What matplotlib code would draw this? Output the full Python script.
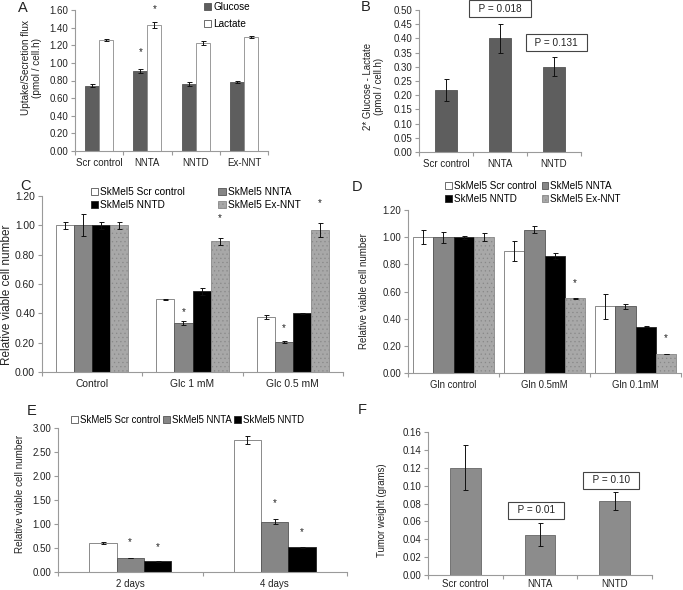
import matplotlib
matplotlib.use("Agg")
import matplotlib.pyplot as plt
import numpy as np
from matplotlib.patches import Patch

plt.rcParams['font.family'] = ['Liberation Sans', 'DejaVu Sans']
plt.rcParams['hatch.linewidth'] = 0.4

# ---------------- data ----------------
a_cats = ["Scr control", "NNTA", "NNTD", "Ex-NNT"]
a_glucose = [0.74, 0.91, 0.765, 0.785]
a_glucose_err = [0.015, 0.022, 0.022, 0.012]
a_lactate = [1.26, 1.43, 1.225, 1.295]
a_lactate_err = [0.010, 0.032, 0.022, 0.010]

b_cats = ["Scr control", "NNTA", "NNTD"]
b_vals = [0.218, 0.40, 0.30]
b_err = [0.038, 0.05, 0.033]
b_pvals = ["P = 0.018", "P = 0.131"]

c_cats = ["Control", "Glc 1 mM", "Glc 0.5 mM"]
c_scr = [1.00, 0.495, 0.375]
c_scr_err = [0.022, 0.005, 0.016]
c_nnta = [1.00, 0.335, 0.205]
c_nnta_err = [0.075, 0.013, 0.007]
c_nntd = [1.00, 0.55, 0.40]
c_nntd_err = [0.025, 0.022, 0.005]
c_exnnt = [1.00, 0.89, 0.97]
c_exnnt_err = [0.025, 0.022, 0.048]

d_cats = ["Gln control", "Gln 0.5mM", "Gln 0.1mM"]
d_scr = [1.00, 0.90, 0.49]
d_scr_err = [0.05, 0.075, 0.09]
d_nnta = [1.00, 1.055, 0.49]
d_nnta_err = [0.04, 0.025, 0.02]
d_nntd = [1.00, 0.86, 0.34]
d_nntd_err = [0.01, 0.02, 0.003]
d_exnnt = [1.00, 0.55, 0.14]
d_exnnt_err = [0.03, 0.003, 0.003]

e_cats = ["2 days", "4 days"]
e_scr = [0.60, 2.75]
e_scr_err = [0.015, 0.08]
e_nnta = [0.29, 1.05]
e_nnta_err = [0.005, 0.06]
e_nntd = [0.22, 0.52]
e_nntd_err = [0.005, 0.01]

f_cats = ["Scr control", "NNTA", "NNTD"]
f_vals = [0.12, 0.045, 0.083]
f_err = [0.025, 0.013, 0.01]
f_pvals = ["P = 0.01", "P = 0.10"]

series_labels = ["SkMel5 Scr control", "SkMel5 NNTA", "SkMel5 NNTD", "SkMel5 Ex-NNT"]

# ---------------- styling ----------------
W, H = 683, 590
fig = plt.figure(figsize=(W / 100, H / 100), dpi=100)
FS = 7.0
SPINE = "#9a9a9a"
TXT = "#222222"
DARK = "#5e5e5e"
MID = "#868686"
LIGHT = "#a8a8a8"
EDGE = "#555555"


def add_ax(l, r, t, b):
    return fig.add_axes([l / W, 1 - b / H, (r - l) / W, (b - t) / H])


def style(ax, cats, ymax, step, xpad=5, fs=FS, fmt="{:.2f}"):
    n = len(cats)
    ax.set_xlim(0, n)
    ax.set_ylim(0, ymax)
    ticks = np.arange(0, ymax + step / 2, step)
    ax.set_yticks(ticks)
    ax.set_yticklabels([fmt.format(v) for v in ticks], fontsize=fs, color=TXT)
    ax.set_xticks(np.arange(0, n + 1))
    ax.set_xticklabels([])
    ax.set_xticks(np.arange(n) + 0.5, minor=True)
    ax.set_xticklabels(cats, minor=True, fontsize=fs, color=TXT)
    ax.tick_params(axis='x', which='major', direction='out', length=3, color=SPINE, width=0.8)
    ax.tick_params(axis='x', which='minor', length=0, pad=xpad)
    ax.tick_params(axis='y', direction='out', length=3, color=SPINE, width=0.8, pad=2)
    for s in ("top", "right"):
        ax.spines[s].set_visible(False)
    for s in ("left", "bottom"):
        ax.spines[s].set_color(SPINE)
        ax.spines[s].set_linewidth(0.8)
    ax.patch.set_alpha(0)


def ylab(ax, s, fs, x, y):
    ax.set_ylabel(s, fontsize=fs, color=TXT, linespacing=1.1)
    ax.yaxis.set_label_coords(x, y)


EK = dict(ecolor="#111111", elinewidth=0.7, capsize=1.8, capthick=0.7)


def bars(ax, x, vals, errs, width, fc, ec=EDGE, hatch=None):
    ax.bar(x, vals, width, yerr=errs, color=fc, edgecolor=ec, linewidth=0.6,
           hatch=hatch, error_kw=EK, zorder=2)


def star(ax, x, y):
    ax.text(x, y, "*", ha="center", va="center", fontsize=7, color=TXT)


def pbox(ax, x, y, s):
    ax.text(x, y, "  " + s + "  ", ha="center", va="center", fontsize=7.2, color=TXT,
            bbox=dict(boxstyle="square,pad=0.35", fc="white", ec="#444444", lw=0.8),
            clip_on=False, zorder=5)


def panel_letter(x, y, s):
    fig.text(x / W, 1 - y / H, s, fontsize=10.5, ha="left", va="center", color=TXT)


def legend(handles, x, y, ncol=1, fs=7.2, **kw):
    fig.legend(handles=handles, ncol=ncol, loc="upper left",
               bbox_to_anchor=(x / W, 1 - y / H), frameon=False, fontsize=fs,
               handlelength=0.7, handleheight=0.7, handletextpad=0.2,
               borderpad=0, borderaxespad=0, **kw)


# ---------------- Panel A ----------------
axA = add_ax(75, 268, 10, 151)
style(axA, a_cats, 1.6, 0.2)
xa = np.arange(len(a_cats)) + 0.5
bw = 0.29
bars(axA, xa - bw / 2, a_glucose, a_glucose_err, bw, DARK)
bars(axA, xa + bw / 2, a_lactate, a_lactate_err, bw, "white", ec="#8a8a8a")
star(axA, xa[1] - bw / 2, a_glucose[1] + 0.21)
star(axA, xa[1] + bw / 2, a_lactate[1] + 0.18)
ylab(axA, "Uptake/Secretion flux\n(pmol / cell.h)", 7.2, -0.171, 0.59)
legend([Patch(fc=DARK, ec=EDGE, lw=0.6, label="Glucose"),
        Patch(fc="white", ec="#555555", lw=0.6, label="Lactate")],
       204, 1.5, labelspacing=0.75)
panel_letter(18, 8, "A")

# ---------------- Panel B ----------------
axB = add_ax(419, 581, 10, 152)
style(axB, b_cats, 0.5, 0.05)
xb = np.arange(len(b_cats)) + 0.5
bars(axB, xb, b_vals, b_err, 0.39, DARK)
ylab(axB, "2* Glucose - Lactate\n(pmol / cell.h)", 6.9, -0.216, 0.46)
pbox(axB, xb[1], 0.505, b_pvals[0])
pbox(axB, xb[2] + 0.04, 0.384, b_pvals[1])
panel_letter(361, 7, "B")

# ---------------- Panel C ----------------
axC = add_ax(42, 343, 196, 372)
style(axC, c_cats, 1.2, 0.2, fs=7.4)
xc = np.arange(len(c_cats)) + 0.5
w4 = 0.18
offs = np.array([-1.5, -0.5, 0.5, 1.5]) * w4
bars(axC, xc + offs[0], c_scr, c_scr_err, w4, "white", ec="#777777")
bars(axC, xc + offs[1], c_nnta, c_nnta_err, w4, MID)
bars(axC, xc + offs[2], c_nntd, c_nntd_err, w4, "black", ec="#222222")
bars(axC, xc + offs[3], c_exnnt, c_exnnt_err, w4, LIGHT, ec="#888888", hatch="....")
star(axC, xc[1] + offs[1], 0.41)
star(axC, xc[1] + offs[3], 1.05)
star(axC, xc[2] + offs[1], 0.30)
star(axC, xc[2] + offs[3], 1.155)
ylab(axC, "Relative viable cell number", 8.5, -0.098, 0.44)
hC = [Patch(fc="white", ec="#555555", lw=0.6, label=series_labels[0]),
      Patch(fc="black", ec="#222222", lw=0.6, label=series_labels[2]),
      Patch(fc=MID, ec=EDGE, lw=0.6, label=series_labels[1]),
      Patch(fc=LIGHT, ec="#888888", lw=0.6, hatch="....", label=series_labels[3])]
legend(hC, 91, 187, ncol=2, fs=7.3, labelspacing=0.3, columnspacing=3.3)
panel_letter(20, 186, "C")

# ---------------- Panel D ----------------
axD = add_ax(408, 681, 210, 373)
style(axD, d_cats, 1.2, 0.2, fs=6.9)
xd = np.arange(len(d_cats)) + 0.5
w4d = 0.22
offsd = np.array([-1.5, -0.5, 0.5, 1.5]) * w4d
bars(axD, xd + offsd[0], d_scr, d_scr_err, w4d, "white", ec="#777777")
bars(axD, xd + offsd[1], d_nnta, d_nnta_err, w4d, MID)
bars(axD, xd + offsd[2], d_nntd, d_nntd_err, w4d, "black", ec="#222222")
bars(axD, xd + offsd[3], d_exnnt, d_exnnt_err, w4d, LIGHT, ec="#888888", hatch="....")
star(axD, xd[1] + offsd[3], 0.665)
star(axD, xd[2] + offsd[3], 0.255)
ylab(axD, "Relative viable cell number", 7.0, -0.143, 0.50)
hD = [Patch(fc="white", ec="#555555", lw=0.6, label=series_labels[0]),
      Patch(fc="black", ec="#222222", lw=0.6, label=series_labels[2]),
      Patch(fc=MID, ec=EDGE, lw=0.6, label=series_labels[1]),
      Patch(fc=LIGHT, ec="#888888", lw=0.6, hatch="....", label=series_labels[3])]
legend(hD, 445, 181, ncol=2, fs=7.1, labelspacing=0.3, columnspacing=0.5)
panel_letter(352, 187, "D")

# ---------------- Panel E ----------------
axE = add_ax(58, 347, 428, 572)
style(axE, e_cats, 3.0, 0.5)
xe = np.arange(len(e_cats)) + 0.5
w3 = 0.19
offse = np.array([-1, 0, 1]) * w3
bars(axE, xe + offse[0], e_scr, e_scr_err, w3, "white", ec="#777777")
bars(axE, xe + offse[1], e_nnta, e_nnta_err, w3, MID)
bars(axE, xe + offse[2], e_nntd, e_nntd_err, w3, "black", ec="#222222")
star(axE, xe[0] + offse[1], 0.63)
star(axE, xe[0] + offse[2], 0.52)
star(axE, xe[1] + offse[1], 1.43)
star(axE, xe[1] + offse[2], 0.83)
ylab(axE, "Relative viable cell number", 7.1, -0.114, 0.54)
hE = [Patch(fc="white", ec="#555555", lw=0.6, label=series_labels[0]),
      Patch(fc=MID, ec=EDGE, lw=0.6, label=series_labels[1]),
      Patch(fc="black", ec="#222222", lw=0.6, label=series_labels[2])]
legend(hE, 71, 415, ncol=3, fs=6.9, columnspacing=0.3)
panel_letter(27, 411, "E")

# ---------------- Panel F ----------------
axF = add_ax(428, 652, 432, 575)
style(axF, f_cats, 0.16, 0.02, xpad=3)
xf = np.arange(len(f_cats)) + 0.5
bars(axF, xf, f_vals, f_err, 0.41, "#8c8c8c", ec="#666666")
ylab(axF, "Tumor weight (grams)", 6.9, -0.183, 0.455)
pbox(axF, xf[1] - 0.05, 0.0727, f_pvals[0])
pbox(axF, xf[2] - 0.05, 0.106, f_pvals[1])
panel_letter(358, 410, "F")

fig.savefig("out.png", dpi=100)
